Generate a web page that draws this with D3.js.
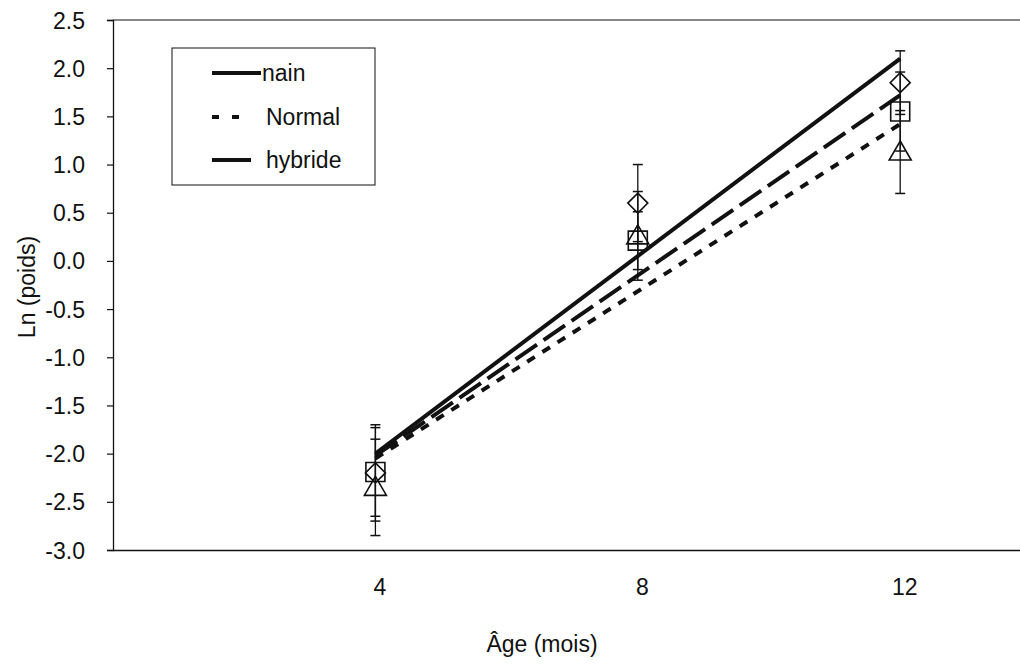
<!DOCTYPE html>
<html><head><meta charset="utf-8">
<script src="https://cdn.jsdelivr.net/npm/d3@7"></script>
<style>
html,body{margin:0;padding:0;background:#fff;}
svg{display:block;font-family:"Liberation Sans",Arial,sans-serif;}
</style></head>
<body><svg id="c" width="1020" height="668"></svg>
<script>
// Data
const ages = [4, 8, 12];
const nainMeans = [-2.2, 0.6, 1.85];
const nainErr = [0.5, 0.4, 0.33];
const normalMeans = [-2.35, 0.26, 1.13];
const normalErr = [0.5, 0.46, 0.43];
const hybrideMeans = [-2.19, 0.21, 1.55];
const hybrideErr = [0.46, 0.3, 0.41];
const fitAges = [4, 12];
const nainFit = [-2.0, 2.1];
const normalFit = [-2.05, 1.42];
const hybrideFit = [-2.02, 1.72];
const yTicks = [-3.0, -2.5, -2.0, -1.5, -1.0, -0.5, 0.0, 0.5, 1.0, 1.5, 2.0, 2.5];
const xTicks = [4, 8, 12];
const seriesNames = ["nain", "Normal", "hybride"];

const svg = d3.select("#c");
const ink = "#111";
const FF = "Liberation Sans, Arial, sans-serif";
const L = 113, T = 20, B = 550;
const x = d3.scaleLinear().domain([0, 14]).range([L, L + 14 * 65.6]);
const y = d3.scaleLinear().domain([-3, 2.5]).range([B, T]);

// frame
svg.append("line").attr("x1", L).attr("x2", 1020).attr("y1", T).attr("y2", T)
  .attr("stroke", ink).attr("stroke-width", 1.2);

// y axis
const yAxis = d3.axisLeft(y).tickValues(yTicks).tickSize(6).tickPadding(22)
  .tickFormat(d => d.toFixed(1));
const gy = svg.append("g").attr("transform", `translate(${L},0)`).call(yAxis);
gy.select(".domain").attr("stroke", ink).attr("stroke-width", 1.3);
gy.selectAll(".tick line").attr("stroke", ink).attr("stroke-width", 1.2);
gy.selectAll(".tick text").attr("font-size", 23).attr("fill", ink)
  .attr("font-family", FF).attr("dy", "0.35em");

// x axis
const xAxis = d3.axisBottom(x).tickValues(xTicks).tickSize(0).tickPadding(29)
  .tickFormat(d => d);
const gx = svg.append("g").attr("transform", `translate(0,${B})`).call(xAxis);
gx.select(".domain").attr("stroke", ink).attr("stroke-width", 1.3).attr("d", `M${L},0.5H1020`);
gx.selectAll(".tick text").attr("font-size", 23).attr("fill", ink)
  .attr("font-family", FF).attr("dx", 4);

// axis titles
svg.append("text").attr("x", 542).attr("y", 652).attr("text-anchor", "middle")
  .attr("font-size", 23).attr("fill", ink).text("Âge (mois)");
svg.append("text").attr("transform", `translate(35,${(T + B) / 2 + 2}) rotate(-90)`)
  .attr("text-anchor", "middle").attr("font-size", 23).attr("fill", ink).text("Ln (poids)");

// fit lines
const styles = {
  nain: null,
  Normal: "9,9",
  hybride: "26,8"
};
const fits = [
  {name: "nain", vals: nainFit},
  {name: "Normal", vals: normalFit},
  {name: "hybride", vals: hybrideFit}
];
const line = d3.line().x(d => x(d[0])).y(d => y(d[1]));
fits.forEach(f => {
  svg.append("path").datum(fitAges.map((a, i) => [a, f.vals[i]]))
    .attr("d", line).attr("fill", "none").attr("stroke", ink)
    .attr("stroke-width", 4).attr("stroke-dasharray", styles[f.name]);
});

// error bars and markers
const groups = [
  {name: "nain", means: nainMeans, err: nainErr, shape: "diamond"},
  {name: "hybride", means: hybrideMeans, err: hybrideErr, shape: "square"},
  {name: "Normal", means: normalMeans, err: normalErr, shape: "triangle"}
];
groups.forEach(g => {
  ages.forEach((a, i) => {
    const cx = x(a), m = g.means[i], e = g.err[i];
    const y1 = y(m + e), y2 = y(m - e);
    svg.append("line").attr("x1", cx).attr("x2", cx).attr("y1", y1).attr("y2", y2)
      .attr("stroke", ink).attr("stroke-width", 1.3);
    [y1, y2].forEach(yy => svg.append("line").attr("x1", cx - 5).attr("x2", cx + 5)
      .attr("y1", yy).attr("y2", yy).attr("stroke", ink).attr("stroke-width", 1.5));
  });
});
groups.forEach(g => {
  ages.forEach((a, i) => {
    const cx = x(a), cy = y(g.means[i]);
    let p;
    if (g.shape === "diamond") p = `M${cx},${cy - 10}L${cx + 10},${cy}L${cx},${cy + 10}L${cx - 10},${cy}Z`;
    else if (g.shape === "square") p = `M${cx - 9.5},${cy - 9.5}H${cx + 9.5}V${cy + 9.5}H${cx - 9.5}Z`;
    else p = `M${cx},${cy - 11}L${cx + 11},${cy + 8}L${cx - 11},${cy + 8}Z`;
    svg.append("path").attr("d", p).attr("fill", "none").attr("stroke", ink).attr("stroke-width", 1.6);
  });
});

// legend
const lg = svg.append("g");
lg.append("rect").attr("x", 172).attr("y", 48).attr("width", 203).attr("height", 137)
  .attr("fill", "#fff").attr("stroke", ink).attr("stroke-width", 1);
const legY = [73, 117, 160];
seriesNames.forEach((n, i) => {
  const ly = legY[i];
  if (n === "nain") {
    lg.append("line").attr("x1", 212).attr("x2", 261).attr("y1", ly).attr("y2", ly)
      .attr("stroke", ink).attr("stroke-width", 4);
    lg.append("text").attr("x", 262).attr("y", ly + 8).attr("font-size", 23).attr("fill", ink).text(n);
  } else if (n === "Normal") {
    lg.append("line").attr("x1", 212).attr("x2", 241).attr("y1", ly).attr("y2", ly)
      .attr("stroke", ink).attr("stroke-width", 4).attr("stroke-dasharray", "7,13");
    lg.append("text").attr("x", 266).attr("y", ly + 8).attr("font-size", 23).attr("fill", ink).text(n);
  } else {
    lg.append("line").attr("x1", 212).attr("x2", 251).attr("y1", ly).attr("y2", ly)
      .attr("stroke", ink).attr("stroke-width", 4);
    lg.append("text").attr("x", 266).attr("y", ly + 8).attr("font-size", 23).attr("fill", ink).text(n);
  }
});
</script></body></html>
